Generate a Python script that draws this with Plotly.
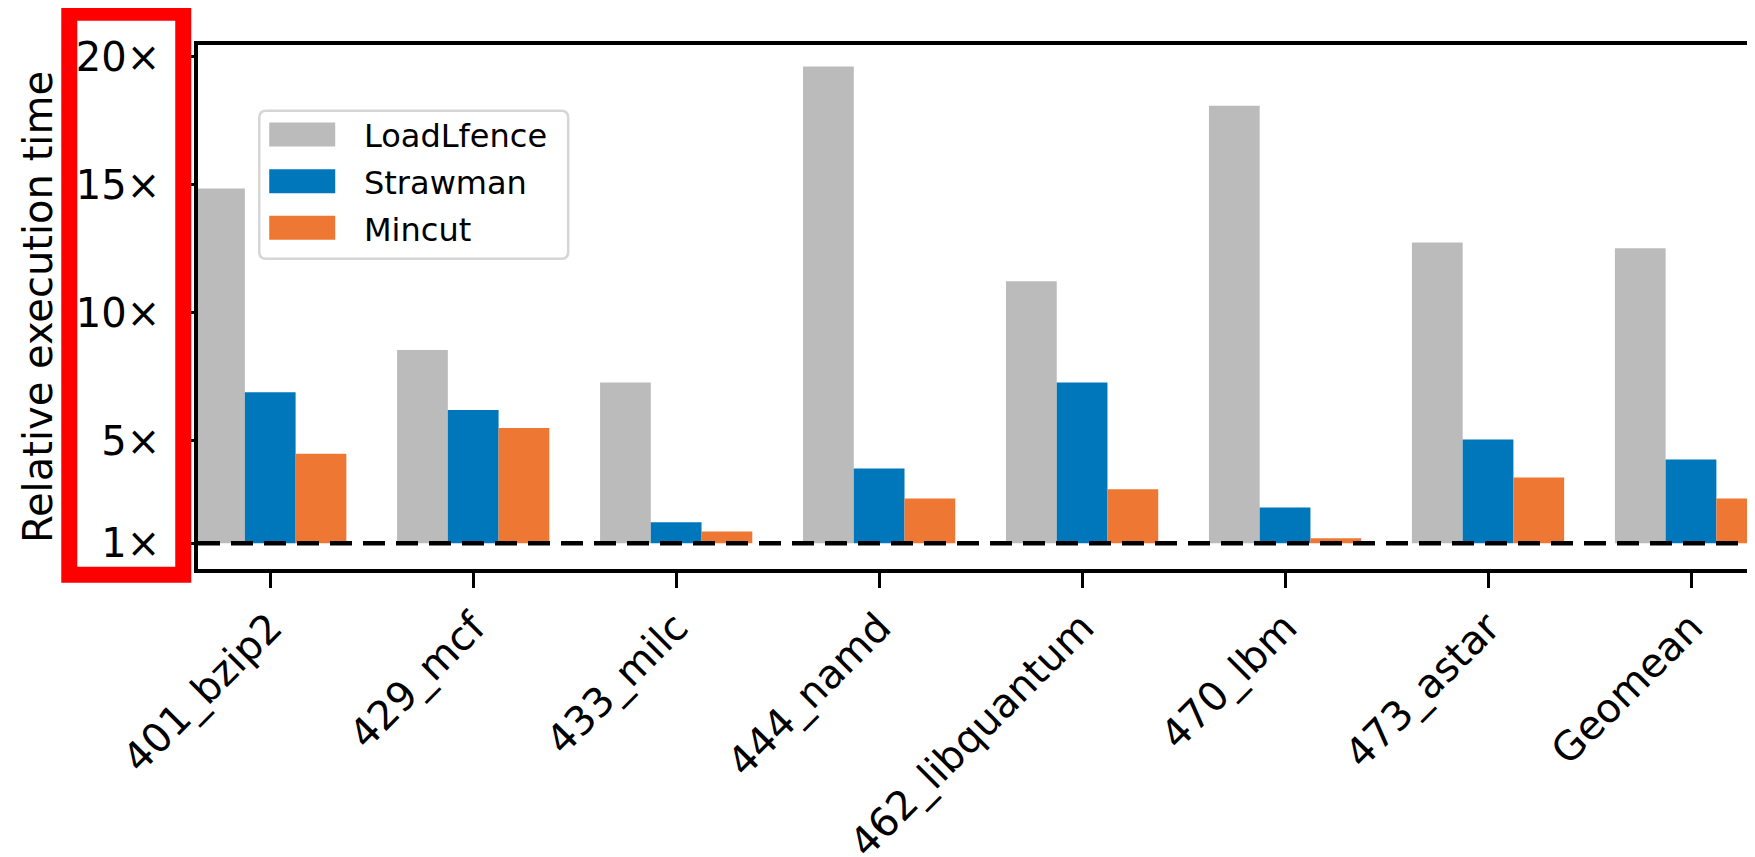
import plotly.graph_objects as go

# ---------------- data ----------------
benchmarks = ["401_bzip2", "429_mcf", "433_milc", "444_namd",
              "462_libquantum", "470_lbm", "473_astar", "Geomean"]
series_names = ["LoadLfence", "Strawman", "Mincut"]
loadlfence = [14.85, 8.55, 7.28, 19.62, 11.23, 18.09, 12.75, 12.52]
strawman = [6.90, 6.20, 1.82, 3.92, 7.28, 2.40, 5.05, 4.27]
mincut = [4.50, 5.50, 1.46, 2.75, 3.11, 1.20, 3.57, 2.75]
baseline = 1.0
y_tick_vals = [1, 5, 10, 15, 20]
y_tick_text = ["1×", "5×", "10×", "15×", "20×"]
colors = ["#BBBBBB", "#0077BB", "#EE7733"]

FONT = "DejaVu Sans"

# ---------------- layout geometry (page pixels) ----------------
PAGE_W, PAGE_H = 1755, 857
BODY = 8          # default browser body margin around the plot div
LW = 3.5          # axis line width (lines are drawn just outside the plot area)
L, T, R_EDGE, B_EDGE = 196 + LW / 2, 43.5 + LW / 2, 1755, 571 - LW / 2
W, H = R_EDGE - L, B_EDGE - T


def px2x(px):
    return (px - L) / W


def py2y(py):
    return 1 - (py - T) / H


fig = go.Figure()
for name, vals, col in zip(series_names, [loadlfence, strawman, mincut], colors):
    fig.add_trace(go.Bar(
        name=name,
        x=benchmarks,
        y=[v - baseline for v in vals],
        base=baseline,
        marker=dict(color=col, line=dict(width=0)),
        showlegend=False,
        customdata=vals,
        hovertemplate="%{x}: %{customdata}×<extra>" + name + "</extra>",
    ))

# dashed baseline at 1x
fig.add_shape(type="line", xref="paper", yref="y", x0=0, x1=1,
              y0=baseline, y1=baseline,
              line=dict(color="black", width=4.5, dash="22px,11px"),
              layer="above")

# ---- manual legend (matplotlib style) ----
def rounded_rect_path(x0, y0, x1, y1, r):
    X = lambda p: px2x(p)
    Y = lambda p: py2y(p)
    return (f"M {X(x0 + r)},{Y(y0)} L {X(x1 - r)},{Y(y0)} "
            f"Q {X(x1)},{Y(y0)} {X(x1)},{Y(y0 + r)} "
            f"L {X(x1)},{Y(y1 - r)} Q {X(x1)},{Y(y1)} {X(x1 - r)},{Y(y1)} "
            f"L {X(x0 + r)},{Y(y1)} Q {X(x0)},{Y(y1)} {X(x0)},{Y(y1 - r)} "
            f"L {X(x0)},{Y(y0 + r)} Q {X(x0)},{Y(y0)} {X(x0 + r)},{Y(y0)} Z")


fig.add_shape(type="path", xref="paper", yref="paper",
              path=rounded_rect_path(259, 111, 568, 259, 7),
              line=dict(color="#d6d6d6", width=2.5), fillcolor="white",
              layer="above")
row_centers = [134.7, 181.4, 228.0]
for name, col, cy in zip(series_names, colors, row_centers):
    fig.add_shape(type="rect", xref="paper", yref="paper",
                  x0=px2x(269), x1=px2x(335), y0=py2y(cy + 12), y1=py2y(cy - 12),
                  line=dict(width=0), fillcolor=col, layer="above")
    fig.add_annotation(xref="paper", yref="paper", x=px2x(362), y=py2y(cy + 2),
                       text=name, showarrow=False, xanchor="left", yanchor="middle",
                       font=dict(family=FONT, size=32, color="black"))

# ---- red highlight box around y tick labels ----
fig.add_shape(type="rect", xref="paper", yref="paper",
              x0=px2x(69), x1=px2x(183), y0=py2y(575), y1=py2y(13),
              line=dict(color="#FF0000", width=16), fillcolor="rgba(0,0,0,0)",
              layer="above")

# axis ranges from the reference pixel scale (tick 0 at x=270, 203 px per category;
# 1x at y=543.5, 25.605 px per unit)
x_range = [(L - 270) / 203.0, (R_EDGE - 270) / 203.0]
y_range = [1 - (B_EDGE - 543.5) / 25.605, 1 + (543.5 - T) / 25.605]

fig.update_layout(
    width=PAGE_W - BODY, height=PAGE_H - BODY,
    margin=dict(l=L - BODY, r=0, t=T - BODY, b=PAGE_H - B_EDGE, pad=0,
                autoexpand=False),
    paper_bgcolor="white", plot_bgcolor="white",
    barmode="group", bargap=0.25, bargroupgap=0,
    font=dict(family=FONT, size=40, color="black"),
    showlegend=False,
)
fig.update_xaxes(
    type="category", range=x_range, automargin=False,
    showline=True, linecolor="black", linewidth=LW, mirror=True,
    ticks="outside", ticklen=15, tickwidth=3, tickcolor="black",
    tickangle=-45, ticklabelstandoff=0,
    tickfont=dict(family=FONT, size=40, color="black"),
    showgrid=False, zeroline=False,
)
fig.update_yaxes(
    range=y_range, automargin=False,
    tickmode="array", tickvals=y_tick_vals, ticktext=y_tick_text,
    showline=True, linecolor="black", linewidth=LW, mirror=False,
    ticks="outside", ticklen=18, tickwidth=3, tickcolor="black",
    ticklabelstandoff=8,
    tickfont=dict(family=FONT, size=40, color="black"),
    showgrid=False, zeroline=False,
    title=dict(text="Relative execution time", standoff=12,
               font=dict(family=FONT, size=40, color="black")),
)

fig.write_html("out.html")
